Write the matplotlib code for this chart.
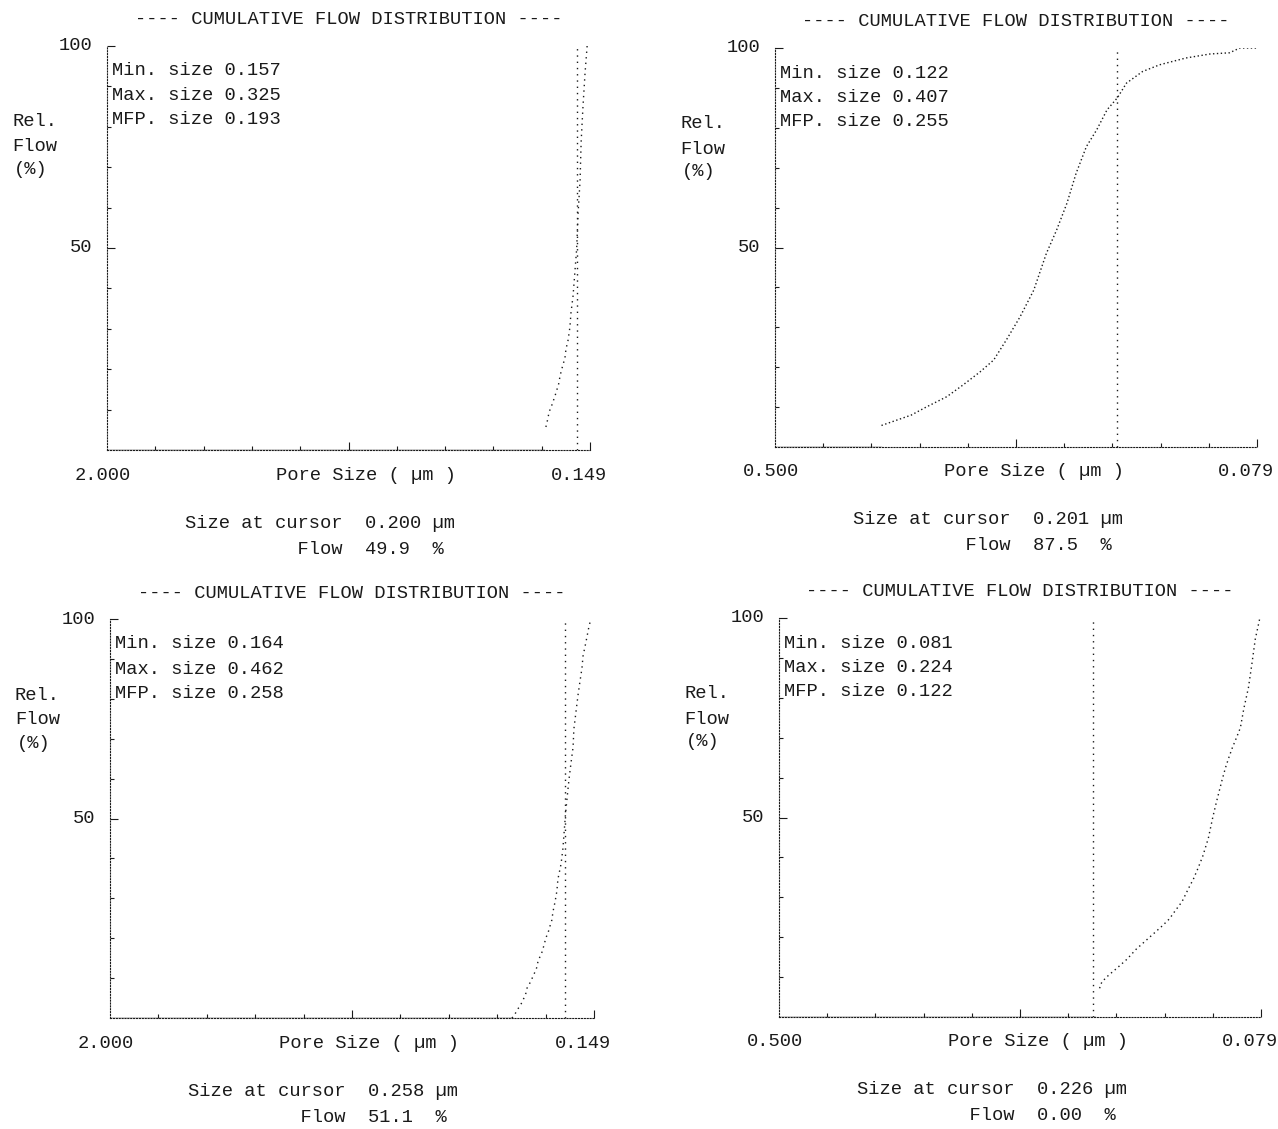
import numpy as np
import matplotlib
matplotlib.use('Agg')
import matplotlib.pyplot as plt

plt.rcParams['font.family'] = ['Liberation Mono', 'DejaVu Sans Mono']
plt.rcParams['font.size'] = 13.5
INK = '#1a1a1a'

title = '---- CUMULATIVE FLOW DISTRIBUTION ----'
x_label = 'Pore Size ( \u00b5m )'

p1_xlim = [2.000, 0.149]
p1_size = [0.318, 0.310, 0.306, 0.298, 0.291, 0.283, 0.275, 0.268, 0.264, 0.256, 0.245, 0.241,
           0.233, 0.226, 0.222, 0.214, 0.200, 0.195, 0.187, 0.183, 0.176, 0.168, 0.160]
p1_flow = [5.7, 7.9, 9.4, 10.6, 11.9, 13.4, 15.1, 16.6, 18.3, 20.3, 22.8, 25.0,
           27.2, 30.4, 33.9, 38.1, 49.9, 58.2, 66.8, 76.2, 84.9, 93.3, 100.0]
p1_stats = ['0.157', '0.325', '0.193']
p1_cursor = [0.200, '49.9']

p2_xlim = [0.500, 0.079]
p2_size = [0.407, 0.381, 0.368, 0.350, 0.336, 0.321, 0.309, 0.298, 0.286, 0.274, 0.263, 0.254, 0.245,
           0.237, 0.228, 0.219, 0.210, 0.201, 0.193, 0.179, 0.164, 0.141, 0.120, 0.103, 0.094, 0.079]
p2_flow = [5.4, 8.0, 10.0, 12.6, 15.5, 18.8, 21.8, 26.8, 32.6, 39.3, 48.5, 54.4, 61.1,
           68.6, 75.3, 79.5, 84.5, 87.5, 91.2, 94.1, 95.8, 97.5, 98.5, 98.8, 100.0, 100.0]
p2_stats = ['0.122', '0.407', '0.255']
p2_cursor = [0.201, '87.5']

p3_xlim = [2.000, 0.149]
p3_size = [0.463, 0.455, 0.447, 0.440, 0.432, 0.424, 0.417, 0.409, 0.405, 0.398,
           0.390, 0.382, 0.375, 0.367, 0.363, 0.356, 0.348, 0.340, 0.333, 0.325,
           0.317, 0.310, 0.306, 0.298, 0.291, 0.287, 0.275, 0.268, 0.258, 0.252,
           0.245, 0.237, 0.229, 0.226, 0.218, 0.210, 0.203, 0.195, 0.191, 0.183,
           0.176, 0.168, 0.161]
p3_flow = [0.0, 0.5, 1.5, 2.3, 3.0, 4.0, 5.0, 6.3, 7.5, 8.3,
           9.3, 10.5, 11.5, 12.8, 14.3, 15.3, 16.5, 18.3, 20.1, 21.3,
           23.1, 24.6, 26.6, 29.1, 31.8, 34.8, 38.6, 42.4, 51.1, 55.1,
           59.6, 63.9, 67.9, 72.4, 76.7, 81.0, 84.2, 87.7, 90.7, 93.2,
           95.5, 98.2, 100.0]
p3_stats = ['0.164', '0.462', '0.258']
p3_cursor = [0.258, '51.1']

p4_xlim = [0.500, 0.079]
p4_size = [0.220, 0.218, 0.212, 0.205, 0.196, 0.188, 0.179, 0.172, 0.165, 0.159, 0.154, 0.148,
           0.142, 0.138, 0.134, 0.130, 0.125, 0.121, 0.118, 0.113, 0.110, 0.107, 0.104, 0.100,
           0.097, 0.094, 0.090, 0.087, 0.084, 0.080]
p4_flow = [7.2, 8.8, 10.5, 12.2, 14.5, 17.0, 19.3, 21.1, 22.9, 24.6, 26.6, 28.9,
           32.4, 34.6, 37.3, 40.2, 44.8, 50.2, 53.8, 59.4, 62.5, 65.1, 67.5, 70.3,
           72.5, 77.3, 82.5, 88.4, 94.7, 100.0]
p4_stats = ['0.081', '0.224', '0.122']
p4_cursor = [0.226, '0.00']


# FIGURE #

W, H = 1278, 1129
fig = plt.figure(figsize=(W / 100, H / 100), dpi=100)


def put(ax, x, y, s, ha='left', coords='axes fraction'):
    # x: anchor in axes fraction, y: offset in pixels from it
    ax.annotate(s, xy=x, xycoords=coords, xytext=y, textcoords='offset pixels',
                ha=ha, va='center', color=INK, annotation_clip=False)


def panel(box, xlim, size, flow, stats, cursor, dots):
    l, r, t, b = box
    ax = fig.add_axes([l / W, 1 - b / H, (r - l) / W, (b - t) / H])
    ax.set_xlim(xlim[0], xlim[1])
    ax.set_ylim(0, 100)
    ax.patch.set_alpha(0)

    for side in ['top', 'right']:
        ax.spines[side].set_visible(False)
    for side in ['left', 'bottom']:
        ax.spines[side].set_linestyle((0, (1, 1.6)))
        ax.spines[side].set_linewidth(0.8)
        ax.spines[side].set_color(INK)

    xt = np.linspace(xlim[0], xlim[1], 11)
    ax.set_xticks([xt[5], xt[10]])
    ax.set_xticks(xt[1:10], minor=True)
    ax.set_yticks([50, 100])
    ax.set_yticks(np.arange(10, 100, 10), minor=True)
    ax.tick_params(which='both', direction='in', color=INK, width=0.8,
                   labelbottom=False, labelleft=False)
    ax.tick_params(which='major', length=6)
    ax.tick_params(which='minor', length=3)

    # zero flow until the largest pore opens, then the measured curve
    ax.plot([xlim[0], float(stats[1])], [0, 0], color=INK, lw=1.0)
    ax.plot(size, flow, color=INK, lw=1.0, ls=(0, dots))
    ax.axvline(cursor[0], ymin=0, ymax=1, color=INK, lw=1.0, ls=(0, (1, 3.5)))

    put(ax, (0.5, 1), (0, 26), title, ha='center')
    put(ax, (0, 1), (5, -25), 'Min. size ' + stats[0])
    put(ax, (0, 1), (5, -50), 'Max. size ' + stats[1])
    put(ax, (0, 1), (5, -74), 'MFP. size ' + stats[2])

    put(ax, (0, 1), (-15, 0), '100', ha='right')
    put(ax, (0, 0.5), (-15, 0), '50', ha='right')
    put(ax, (0, 1), (-95, -76), 'Rel.')
    put(ax, (0, 1), (-95, -101), 'Flow')
    put(ax, (0, 1), (-93, -124), '(%)')

    put(ax, (0, 0), (-4, -25), '%.3f' % xlim[0], ha='center')
    put(ax, (1, 0), (-11, -25), '%.3f' % xlim[1], ha='center')
    put(ax, (0, 0), (259, -25), x_label, ha='center')

    put(ax, (0, 0), (78, -73), 'Size at cursor  %.3f \u00b5m' % cursor[0])
    put(ax, (0, 0), (78, -99), '          Flow  %s  %%' % cursor[1])
    return ax


panel((107, 590, 46, 450), p1_xlim, p1_size, p1_flow, p1_stats, p1_cursor, (1, 3))
panel((775, 1257, 48, 447), p2_xlim, p2_size, p2_flow, p2_stats, p2_cursor, (1, 1.8))
panel((110, 594, 619, 1018), p3_xlim, p3_size, p3_flow, p3_stats, p3_cursor, (1, 3))
panel((779, 1261, 618, 1017), p4_xlim, p4_size, p4_flow, p4_stats, p4_cursor, (1, 2.5))

fig.savefig('out.png', dpi=100, facecolor='white')
